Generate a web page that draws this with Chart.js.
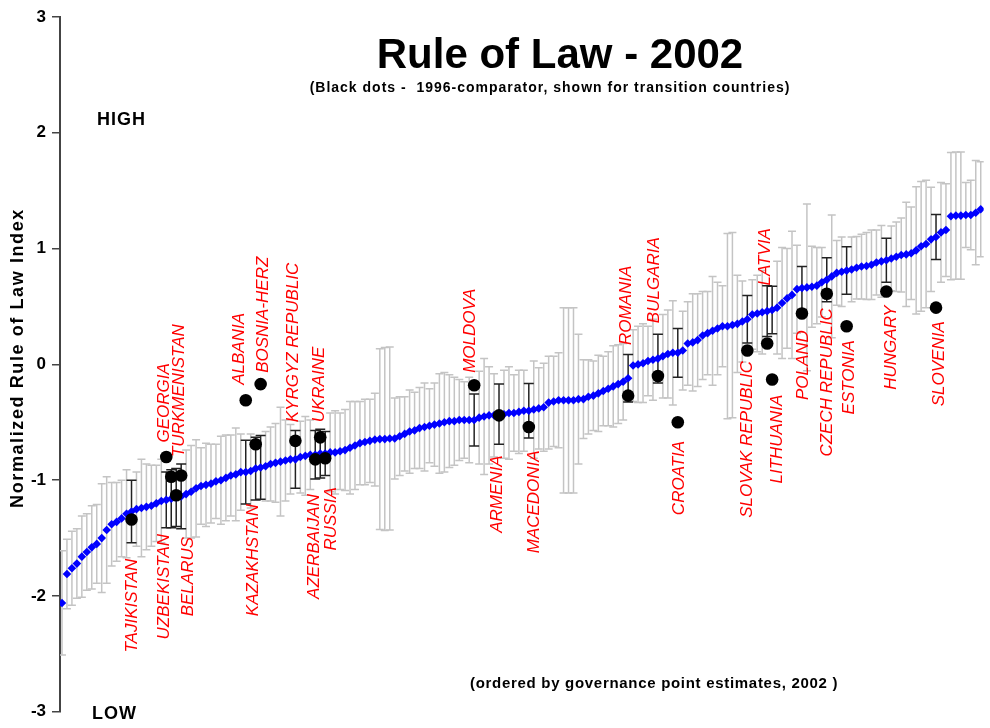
<!DOCTYPE html>
<html>
<head>
<meta charset="utf-8">
<title>Rule of Law - 2002</title>
<script src="https://cdn.jsdelivr.net/npm/chart.js@4.4.1/dist/chart.umd.min.js"></script>
<style>
    html, body { margin: 0; padding: 0; background: #ffffff; }
    #contenedor { width: 990px; height: 728px; position: relative; }
</style>
</head>
<body>
<div id="contenedor"><canvas id="chartRuleOfLaw"></canvas></div>
<script>
// ===== RULE OF LAW 2002 - CHART.JS =====

// Estimaciones 2002, ordenadas de menor a mayor
const estimaciones2002 = [
    -2.06, -1.81, -1.76, -1.72, -1.66, -1.62, -1.58, -1.55, -1.50, -1.43,
    -1.38, -1.36, -1.33, -1.29, -1.27, -1.25, -1.24, -1.23, -1.22, -1.20,
    -1.18, -1.17, -1.16, -1.15, -1.14, -1.12, -1.10, -1.07, -1.05, -1.04,
    -1.03, -1.01, -1.00, -0.98, -0.96, -0.95, -0.93, -0.93, -0.92, -0.90,
    -0.89, -0.88, -0.86, -0.85, -0.84, -0.83, -0.82, -0.82, -0.80, -0.79,
    -0.78, -0.78, -0.77, -0.77, -0.76, -0.76, -0.75, -0.74, -0.72, -0.70,
    -0.68, -0.67, -0.66, -0.65, -0.645, -0.645, -0.64, -0.64, -0.62, -0.60,
    -0.58, -0.57, -0.55, -0.54, -0.53, -0.52, -0.51, -0.50, -0.49, -0.49,
    -0.48, -0.48, -0.48, -0.48, -0.46, -0.45, -0.44, -0.44, -0.43, -0.43,
    -0.42, -0.42, -0.41, -0.40, -0.40, -0.39, -0.38, -0.37, -0.33, -0.32,
    -0.31, -0.31, -0.31, -0.31, -0.30, -0.30, -0.28, -0.27, -0.25, -0.23,
    -0.21, -0.19, -0.17, -0.15, -0.12, -0.01, 0.00, 0.01, 0.03, 0.04,
    0.05, 0.07, 0.09, 0.10, 0.10, 0.12, 0.18, 0.19, 0.21, 0.25,
    0.27, 0.29, 0.31, 0.33, 0.33, 0.34, 0.35, 0.37, 0.39, 0.43,
    0.44, 0.45, 0.46, 0.47, 0.49, 0.53, 0.57, 0.60, 0.65, 0.66,
    0.665, 0.67, 0.68, 0.71, 0.73, 0.76, 0.79, 0.80, 0.81, 0.82,
    0.835, 0.845, 0.85, 0.86, 0.88, 0.89, 0.90, 0.915, 0.93, 0.945,
    0.95, 0.96, 0.985, 1.02, 1.04, 1.08, 1.10, 1.14, 1.16, 1.28,
    1.285, 1.285, 1.29, 1.29, 1.31, 1.34
];

// Margen de error (mitad de la barra gris)
const margenError = [
    0.45, 0.30, 0.32, 0.30, 0.35, 0.33, 0.36, 0.34, 0.47, 0.46,
    0.36, 0.34, 0.33, 0.38, 0.36, 0.32, 0.42, 0.37, 0.35, 0.33,
    0.36, 0.34, 0.30, 0.32, 0.35, 0.38, 0.40, 0.42, 0.33, 0.36,
    0.34, 0.32, 0.38, 0.37, 0.35, 0.40, 0.33, 0.36, 0.32, 0.30,
    0.34, 0.30, 0.32, 0.34, 0.47, 0.35, 0.30, 0.33, 0.31, 0.34,
    0.30, 0.32, 0.28, 0.30, 0.34, 0.36, 0.33, 0.35, 0.40, 0.38,
    0.36, 0.37, 0.36, 0.40, 0.78, 0.79, 0.79, 0.35, 0.34, 0.32,
    0.36, 0.33, 0.35, 0.38, 0.32, 0.36, 0.43, 0.43, 0.40, 0.38,
    0.35, 0.33, 0.37, 0.34, 0.40, 0.50, 0.42, 0.36, 0.34, 0.38,
    0.40, 0.33, 0.36, 0.35, 0.30, 0.42, 0.35, 0.38, 0.40, 0.39,
    0.41, 0.80, 0.80, 0.80, 0.56, 0.34, 0.32, 0.30, 0.33, 0.30,
    0.32, 0.35, 0.34, 0.33, 0.36, 0.31, 0.33, 0.34, 0.30, 0.35,
    0.33, 0.36, 0.38, 0.45, 0.32, 0.34, 0.36, 0.42, 0.40, 0.38,
    0.36, 0.47, 0.40, 0.35, 0.80, 0.80, 0.42, 0.35, 0.34, 0.30,
    0.33, 0.36, 0.32, 0.31, 0.40, 0.48, 0.43, 0.55, 0.38, 0.32,
    0.72, 0.35, 0.33, 0.30, 0.32, 0.53, 0.28, 0.30, 0.30, 0.28,
    0.27, 0.28, 0.29, 0.30, 0.28, 0.31, 0.29, 0.28, 0.30, 0.32,
    0.45, 0.40, 0.55, 0.56, 0.55, 0.45, 0.40, 0.43, 0.40, 0.55,
    0.55, 0.55, 0.28, 0.30, 0.45, 0.41
];

// Países en transición
const paisesTransicion = [
    'TAJIKISTAN', 'GEORGIA', 'UZBEKISTAN', 'BELARUS', 'TURKMENISTAN',
    'ALBANIA', 'KAZAKHSTAN', 'BOSNIA-HERZ', 'KYRGYZ REPUBLIC', 'AZERBAIJAN',
    'UKRAINE', 'RUSSIA', 'MOLDOVA', 'ARMENIA', 'MACEDONIA',
    'ROMANIA', 'BULGARIA', 'CROATIA', 'SLOVAK REPUBLIC', 'LATVIA',
    'LITHUANIA', 'POLAND', 'CZECH REPUBLIC', 'ESTONIA', 'HUNGARY', 'SLOVENIA'
];
// Posición en el orden 2002
const rangoTransicion = [
    14, 21, 22, 23, 24,
    37, 39, 40, 47, 51,
    52, 53, 83, 88, 94,
    114, 120, 124, 138, 142,
    143, 149, 154, 158, 166, 176
];
// Comparador 1996 (puntos negros)
const comparador1996 = [
    -1.34, -0.80, -0.97, -1.13, -0.96,
    -0.31, -0.69, -0.17, -0.66, -0.82,
    -0.63, -0.81, -0.18, -0.44, -0.54,
    -0.27, -0.10, -0.50, 0.12, 0.18,
    -0.13, 0.44, 0.61, 0.33, 0.63, 0.49
];
// Margen de error 2002 de los países en transición
const margenTransicion = [
    0.27, 0.24, 0.25, 0.25, 0.28,
    0.275, 0.27, 0.275, 0.25, 0.21,
    0.21, 0.19, 0.225, 0.26, 0.235,
    0.205, 0.21, 0.21, 0.205, 0.22,
    0.205, 0.185, 0.19, 0.205, 0.19, 0.195
];

const ticksY = [-3, -2, -1, 0, 1, 2, 3];

// Ubicación de las etiquetas rojas (x en rango, y en valor del índice)
const ubicacionEtiquetas = {
    'TAJIKISTAN':      { x: 14.2,  y: -1.678, lado: 'abajo' },
    'GEORGIA':         { x: 20.6,  y: -0.674, lado: 'arriba' },
    'UZBEKISTAN':      { x: 20.6,  y: -1.464, lado: 'abajo' },
    'BELARUS':         { x: 25.4,  y: -1.49,  lado: 'abajo' },
    'TURKMENISTAN':    { x: 23.6,  y: -0.80,  lado: 'arriba' },
    'ALBANIA':         { x: 35.6,  y: -0.176, lado: 'arriba' },
    'KAZAKHSTAN':      { x: 38.6,  y: -1.206, lado: 'abajo' },
    'BOSNIA-HERZ':     { x: 40.6,  y: -0.073, lado: 'arriba' },
    'KYRGYZ REPUBLIC': { x: 46.6,  y: -0.50,  lado: 'arriba' },
    'AZERBAIJAN':      { x: 50.8,  y: -1.12,  lado: 'abajo' },
    'UKRAINE':         { x: 51.8,  y: -0.50,  lado: 'arriba' },
    'RUSSIA':          { x: 54.2,  y: -1.06,  lado: 'abajo' },
    'MOLDOVA':         { x: 82.2,  y: -0.073, lado: 'arriba' },
    'ARMENIA':         { x: 87.6,  y: -0.785, lado: 'abajo' },
    'MACEDONIA':       { x: 95.2,  y: -0.742, lado: 'abajo' },
    'ROMANIA':         { x: 113.6, y: 0.167,  lado: 'arriba' },
    'BULGARIA':        { x: 119.2, y: 0.356,  lado: 'arriba' },
    'CROATIA':         { x: 124.2, y: -0.66,  lado: 'abajo' },
    'SLOVAK REPUBLIC': { x: 138,   y: 0.03,   lado: 'abajo' },
    'LATVIA':          { x: 141.6, y: 0.682,  lado: 'arriba' },
    'LITHUANIA':       { x: 144,   y: -0.262, lado: 'abajo' },
    'POLAND':          { x: 149.2, y: 0.296,  lado: 'abajo' },
    'CZECH REPUBLIC':  { x: 154,   y: 0.485,  lado: 'abajo' },
    'ESTONIA':         { x: 158.6, y: 0.21,   lado: 'abajo' },
    'HUNGARY':         { x: 167,   y: 0.51,   lado: 'abajo' },
    'SLOVENIA':        { x: 176.6, y: 0.373,  lado: 'abajo' }
};

const FUENTE = 'Arial, "Liberation Sans", sans-serif';

// Barras de error (grises y negras)
const pluginBarrasError = {
    id: 'barrasError',
    beforeDatasetsDraw(chart) {
        const ctx = chart.ctx;
        const sx = chart.scales.x;
        const sy = chart.scales.y;
        const area = chart.chartArea;

        ctx.save();
        ctx.beginPath();
        ctx.rect(area.left, area.top, area.right - area.left, area.bottom - area.top);
        ctx.clip();

        function barra(i, v, e, color, ancho, cap) {
            const x = sx.getPixelForValue(i);
            const y1 = sy.getPixelForValue(v + e);
            const y2 = sy.getPixelForValue(v - e);
            ctx.strokeStyle = color;
            ctx.lineWidth = ancho;
            ctx.beginPath();
            ctx.moveTo(x, y1); ctx.lineTo(x, y2);
            ctx.moveTo(x - cap, y1); ctx.lineTo(x + cap, y1);
            ctx.moveTo(x - cap, y2); ctx.lineTo(x + cap, y2);
            ctx.stroke();
        }

        estimaciones2002.forEach(function(v, i) {
            if (rangoTransicion.indexOf(i) === -1) {
                barra(i, v, margenError[i], '#c4c4c4', 1.5, 4);
            }
        });
        rangoTransicion.forEach(function(r, k) {
            barra(r, estimaciones2002[r], margenTransicion[k], '#222222', 1.5, 5);
        });
        ctx.restore();
    }
};

// Textos: títulos, etiquetas de países
const pluginTextos = {
    id: 'textos',
    afterDraw(chart) {
        const ctx = chart.ctx;
        const sx = chart.scales.x;
        const sy = chart.scales.y;
        ctx.save();
        ctx.fillStyle = '#000000';
        ctx.textBaseline = 'alphabetic';
        ctx.textAlign = 'center';
        ctx.font = 'bold 42px ' + FUENTE;
        ctx.fillText('Rule of Law - 2002', 560, 68);
        ctx.font = 'bold 14px ' + FUENTE;
        ctx.letterSpacing = '1px';
        ctx.fillText('(Black dots -  1996-comparator, shown for transition countries)', 550, 92);

        ctx.textAlign = 'left';
        ctx.font = 'bold 18px ' + FUENTE;
        ctx.letterSpacing = '1px';
        ctx.fillText('HIGH', 97, 125);
        ctx.fillText('LOW', 92, 719);
        ctx.font = 'bold 15px ' + FUENTE;
        ctx.letterSpacing = '0.7px';
        ctx.fillText('(ordered by governance point estimates, 2002 )', 470, 688);

        // Título del eje Y
        ctx.save();
        ctx.translate(18, 358);
        ctx.rotate(-Math.PI / 2);
        ctx.textAlign = 'center';
        ctx.textBaseline = 'middle';
        ctx.font = 'bold 18px ' + FUENTE;
        ctx.letterSpacing = '1.6px';
        ctx.fillText('Normalized Rule of Law Index', 0, 0);
        ctx.restore();

        ctx.letterSpacing = '0px';
        ctx.fillStyle = '#ff0000';
        ctx.font = 'italic 17px ' + FUENTE;
        ctx.textBaseline = 'middle';
        paisesTransicion.forEach(function(nombre) {
            const u = ubicacionEtiquetas[nombre];
            ctx.save();
            ctx.translate(sx.getPixelForValue(u.x), sy.getPixelForValue(u.y));
            ctx.rotate(-Math.PI / 2);
            ctx.textAlign = u.lado === 'arriba' ? 'left' : 'right';
            ctx.fillText(nombre, 0, 0);
            ctx.restore();
        });
        ctx.restore();
    }
};

function inicializarGrafico() {
    const ctx = document.getElementById('chartRuleOfLaw');
    new Chart(ctx, {
        type: 'scatter',
        data: {
            datasets: [
                {
                    label: '1996',
                    data: comparador1996.map(function(v, k) { return { x: rangoTransicion[k], y: v }; }),
                    pointStyle: 'circle',
                    pointRadius: 6.3,
                    backgroundColor: '#000000',
                    borderWidth: 0,
                    order: 0
                },
                {
                    label: '2002',
                    data: estimaciones2002.map(function(v, i) { return { x: i, y: v }; }),
                    pointStyle: 'rectRot',
                    pointRadius: 4.3,
                    backgroundColor: '#0000ff',
                    borderWidth: 0,
                    order: 1
                }
            ]
        },
        options: {
            responsive: true,
            maintainAspectRatio: false,
            animation: false,
            layout: { padding: { top: 17, bottom: 12, left: 0, right: 0 } },
            plugins: {
                legend: { display: false },
                tooltip: { enabled: false }
            },
            scales: {
                x: {
                    type: 'linear',
                    display: false,
                    min: -0.4,
                    max: estimaciones2002.length - 0.4
                },
                y: {
                    type: 'linear',
                    min: -3,
                    max: 3,
                    afterBuildTicks: function(scale) {
                        scale.ticks = ticksY.map(function(v) { return { value: v }; });
                    },
                    afterFit: function(scale) { scale.width = 60; },
                    ticks: {
                        color: '#000000',
                        padding: 6,
                        font: { family: FUENTE, weight: 'bold', size: 17 }
                    },
                    grid: {
                        drawOnChartArea: false,
                        drawTicks: true,
                        tickLength: 8,
                        color: '#444444',
                        lineWidth: 1.5
                    },
                    border: { display: true, color: '#444444', width: 2 },
                    title: { display: false }
                }
            }
        },
        plugins: [pluginBarrasError, pluginTextos]
    });
}

document.addEventListener('DOMContentLoaded', inicializarGrafico);
</script>
</body>
</html>
